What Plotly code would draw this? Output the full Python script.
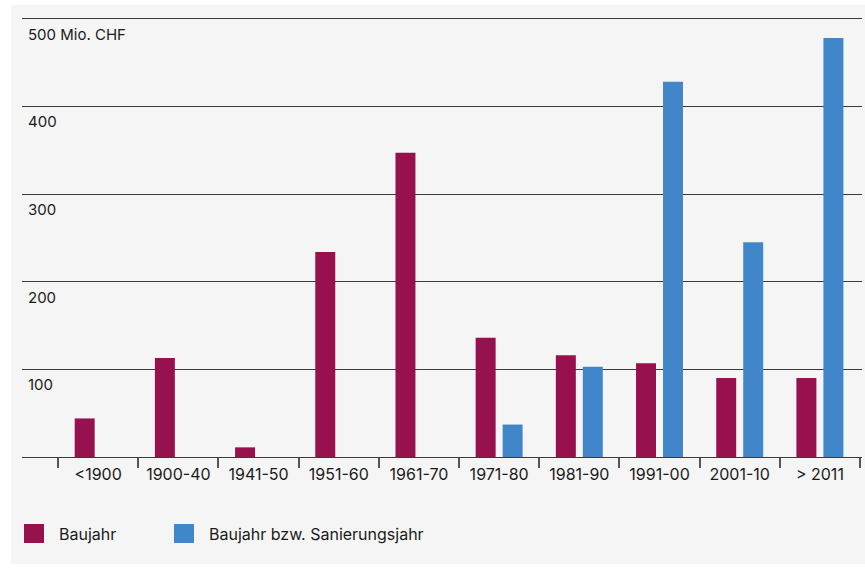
import plotly.graph_objects as go

# Investment volume per construction period (Mio. CHF)
categories = ["<1900", "1900-40", "1941-50", "1951-60", "1961-70",
              "1971-80", "1981-90", "1991-00", "2001-10", "> 2011"]
baujahr = [44, 113, 11, 234, 347, 136, 116, 107, 90, 90]
sanierungsjahr = [None, None, None, None, None, 37, 103, 428, 245, 478]

y_ticks = [500, 400, 300, 200, 100]
y_tick_labels = ["500 Mio. CHF", "400", "300", "200", "100"]

series_names = ["Baujahr", "Baujahr bzw. Sanierungsjahr"]
series_colors = ["#96114E", "#4186C8"]

W, H = 865, 569
M_L, M_R, M_T, M_B = 22, 3, 17, 112
PW, PH = W - M_L - M_R, H - M_T - M_B

FONT = "Inter"
TEXT = "#1a1a1a"
GRID = "#3a3a3a"


def px_x(px):
    return (px - M_L) / PW


def px_y(py):
    return (H - M_B - py) / PH


fig = go.Figure()
fig.add_trace(go.Bar(x=categories, y=baujahr, name=series_names[0],
                     marker=dict(color=series_colors[0], line_width=0)))
fig.add_trace(go.Bar(x=categories, y=sanierungsjahr, name=series_names[1],
                     marker=dict(color=series_colors[1], line_width=0)))

shapes = [dict(type="rect", xref="paper", yref="paper", layer="below",
               x0=px_x(11), x1=px_x(866), y0=px_y(564), y1=px_y(5),
               fillcolor="#f5f5f5", line_width=0)]

annotations = []
for v, lab in zip(y_ticks, y_tick_labels):
    annotations.append(dict(x=px_x(26), xref="paper", y=v, yref="y",
                            text=lab, showarrow=False, xanchor="left",
                            yanchor="top", yshift=-4,
                            font=dict(family=FONT, size=15, color=TEXT)))

# legend drawn as swatches plus labels below the chart
legend_x = [24, 174]
for name, color, lx in zip(series_names, series_colors, legend_x):
    shapes.append(dict(type="rect", xref="paper", yref="paper",
                       x0=px_x(lx), x1=px_x(lx + 20),
                       y0=px_y(543), y1=px_y(524),
                       fillcolor=color, line_width=0))
    annotations.append(dict(x=px_x(lx + 33), xref="paper", y=px_y(534),
                            yref="paper", text=name, showarrow=False,
                            xanchor="left", yanchor="middle",
                            font=dict(family=FONT, size=16, color=TEXT)))

fig.update_layout(
    width=W, height=H,
    margin=dict(l=M_L, r=M_R, t=M_T, b=M_B, pad=0),
    paper_bgcolor="white", plot_bgcolor="rgba(0,0,0,0)",
    barmode="group", bargap=0.327, bargroupgap=0.26,
    showlegend=False,
    shapes=shapes, annotations=annotations,
    font=dict(family=FONT, size=15, color=TEXT),
    xaxis=dict(type="category", categoryorder="array",
               categoryarray=categories,
               range=[-0.95, 9.525], tickson="boundaries", ticks="outside",
               ticklen=10, tickcolor="#555", tickwidth=1.5,
               ticklabelstandoff=3,
               showline=True, linecolor=GRID, linewidth=1,
               showgrid=False, tickfont=dict(family=FONT, size=16, color=TEXT),
               fixedrange=True),
    yaxis=dict(range=[0, 502], tickvals=y_ticks, showticklabels=False,
               showgrid=True, gridcolor=GRID, gridwidth=1,
               zeroline=False, fixedrange=True),
)

fig.write_html("out.html", config={"displayModeBar": False})
